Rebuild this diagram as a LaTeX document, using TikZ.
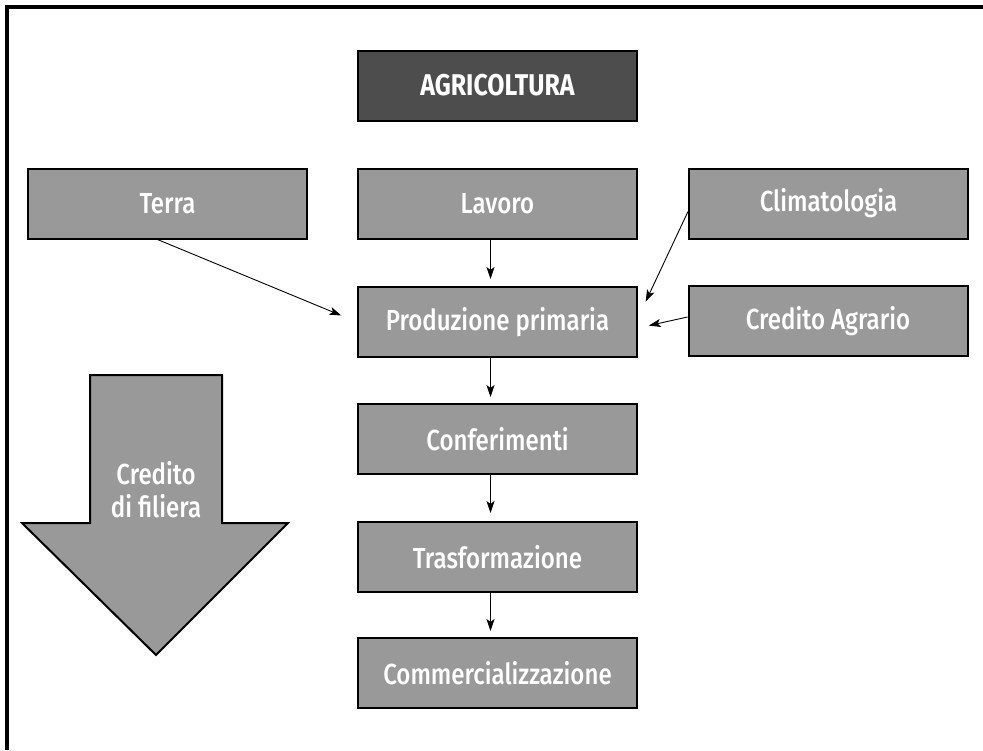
\documentclass[tikz,border=0pt]{standalone}
\usepackage{fontspec}
\setmainfont{Fira Sans}[UprightFont={* Medium},BoldFont={* Bold},FakeStretch=0.83]
\usetikzlibrary{arrows.meta,calc}
\definecolor{boxgray}{HTML}{999999}
\definecolor{darkgray4}{HTML}{4D4D4D}
\begin{document}
\begin{tikzpicture}[x=1pt,y=-1pt,
  stepbox/.style={draw=black,line width=2pt,fill=boxgray,rectangle,
    minimum width=279pt,minimum height=70pt,inner sep=0pt,
    text=white,font=\fontsize{29}{34}\selectfont},
  titlebox/.style={stepbox,fill=darkgray4,font=\fontsize{30}{34}\selectfont\bfseries},
  arr/.style={-{Stealth[length=12pt,width=8pt,inset=3pt]},line width=0.9pt}]
\useasboundingbox (0,0) rectangle (983,750);
% frame (top and left only)
\draw[line width=4pt] (7,750) -- (7,7) -- (983,7);
% boxes
\node[titlebox] (agri) at (497.5,85.5) {AGRICOLTURA};
\node[stepbox] (terra) at (167.5,203.5) {Terra};
\node[stepbox] (lavoro) at (497.5,203.5) {Lavoro};
\node[stepbox] (clima) at (828.5,203.5) {Climatologia};
\node[stepbox] (prod) at (497.5,322) {Produzione primaria};
\node[stepbox] (cred) at (828,321) {Credito Agrario};
\node[stepbox] (conf) at (497.5,439) {Conferimenti};
\node[stepbox] (trasf) at (497.5,557) {Trasformazione};
\node[stepbox] (comm) at (497.5,673) {Commercializzazione};
% big arrow
\draw[line width=2pt,fill=boxgray,line join=miter]
  (90,375) -- (222,375) -- (222,523) -- (288,523) -- (156,655) -- (22,523) -- (90,523) -- cycle;
\node[text=white,align=center,font=\fontsize{29}{33}\selectfont] (filiera) at (156,490) {Credito\\di filiera};
% connectors
\draw[arr,shorten >=17pt] ([xshift=-10pt]terra.south) -- (prod.west);
\draw[arr,shorten >=18pt] ([yshift=-8pt]clima.west) -- ([yshift=4pt]prod.east);
\draw[arr,shorten >=11pt] ([yshift=4pt]cred.west) -- ([yshift=-6pt]prod.east);
\draw[arr,shorten >=7pt] ([xshift=-7pt]lavoro.south) -- ([xshift=-7pt]prod.north);
\draw[arr,shorten >=6pt] ([xshift=-7pt]prod.south) -- ([xshift=-7pt]conf.north);
\draw[arr,shorten >=8pt] ([xshift=-7pt]conf.south) -- ([xshift=-7pt]trasf.north);
\draw[arr,shorten >=6pt] ([xshift=-7pt]trasf.south) -- ([xshift=-7pt]comm.north);
\end{tikzpicture}
\end{document}
